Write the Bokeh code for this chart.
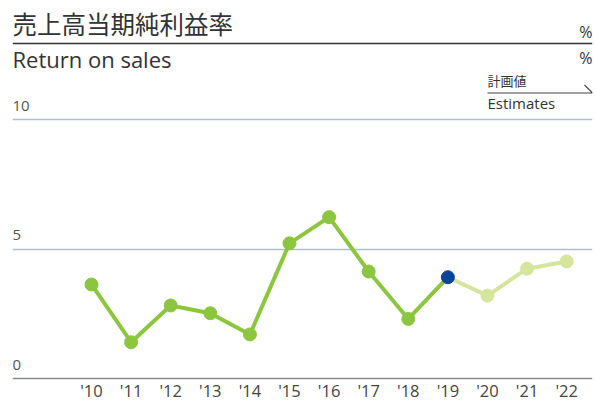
from bokeh.plotting import figure
from bokeh.models import FixedTicker, Span
from bokeh.core.properties import value
from bokeh.embed import file_html
from bokeh.resources import INLINE

years = [2010, 2011, 2012, 2013, 2014, 2015, 2016, 2017, 2018, 2019, 2020, 2021, 2022]
year_labels = ["'10", "'11", "'12", "'13", "'14", "'15", "'16", "'17", "'18", "'19", "'20", "'21", "'22"]
ratio = [3.63, 1.40, 2.82, 2.52, 1.70, 5.22, 6.23, 4.13, 2.30, 3.91, 3.20, 4.24, 4.52]
n_actual = 10  # '10 .. '19 actual, '20 .. '22 estimates
y_ticks = [0, 5, 10]

title_jp = "売上高当期純利益率"
title_en = "Return on sales"
unit = "%"
est_jp = "計画値"
est_en = "Estimates"

GREEN = "#8cc63f"
LIGHT = "#d5e59b"
BLUE = "#0a4497"
JP = "Noto Sans CJK JP"
EN = "Open Sans"
TXT = "#333333"

W, H = 596, 401
FL, FR = 12, 4             # frame inset left / right
px_per_year = 39.6
x0 = 2010 - (91 - FL) / px_per_year
x1 = x0 + (W - FL - FR) / px_per_year
Y0 = 378                   # pixel row of value 0
px_per_unit = 25.9
y_lo = -(H - Y0) / px_per_unit
y_hi = Y0 / px_per_unit


def yd(py):
    return (Y0 - py) / px_per_unit


def xd(px):
    return x0 + (px - FL) / px_per_year


p = figure(width=W, height=H, output_backend="svg", toolbar_location=None,
           x_range=(x0, x1), y_range=(y_lo, y_hi),
           min_border_left=FL, min_border_right=FR, min_border_top=0, min_border_bottom=0)
p.outline_line_color = None
p.background_fill_color = "white"
p.border_fill_color = "white"
p.xaxis.visible = False
p.yaxis.visible = False
p.xgrid.visible = False
p.ygrid.ticker = FixedTicker(ticks=y_ticks[1:])
p.ygrid.grid_line_color = "#adc0cc"
p.ygrid.grid_line_width = 1.3

# baseline axis at 0
p.add_layout(Span(location=y_ticks[0], dimension="width", line_color="#8a8a8a", line_width=1.6))

# x tick labels
p.text(x=years, y=[y_ticks[0]] * len(years), text=year_labels, text_font=value(EN),
       text_font_size="16.5px", text_color="#444444", text_align="center",
       text_baseline="alphabetic", y_offset=12)

# y tick labels above gridlines at left
p.text(x=[x0] * len(y_ticks), y=y_ticks, text=[str(t) for t in y_ticks],
       text_font=value(EN), text_font_size="15px", text_color="#555555",
       text_baseline="alphabetic", text_align="left", y_offset=-14)

# lines
p.line(years[:n_actual], ratio[:n_actual], line_color=GREEN, line_width=4)
p.line(years[n_actual - 1:], ratio[n_actual - 1:], line_color=LIGHT, line_width=4)
p.scatter(years[:n_actual - 1], ratio[:n_actual - 1], size=13, color=GREEN)
p.scatter(years[n_actual:], ratio[n_actual:], size=13, color=LIGHT)
p.scatter([years[n_actual - 1]], [ratio[n_actual - 1]], size=13, color=BLUE)

# titles
p.text(x=[x0], y=[yd(23)], text=[title_jp], text_font=value(JP), text_font_size="24.5px",
       text_color=TXT, text_baseline="alphabetic", text_align="left")
p.add_layout(Span(location=yd(43), dimension="width", line_color="#333333", line_width=1.3))
p.text(x=[x0], y=[yd(58)], text=[title_en], text_font=value(EN), text_font_size="22px",
       text_color=TXT, text_baseline="alphabetic", text_align="left")
p.text(x=[x1, x1], y=[yd(31), yd(57)], text=[unit, unit], text_font=value(EN),
       text_font_size="16px", text_color=TXT, text_baseline="alphabetic", text_align="right")

# estimates label
p.text(x=[xd(487)], y=[yd(80)], text=[est_jp], text_font=value(JP), text_font_size="13px",
       text_color=TXT, text_baseline="alphabetic", text_align="left")
p.line(x=[xd(487), xd(W - FR), xd(W - FR - 8)], y=[yd(92.5), yd(92.5), yd(84.5)],
       line_color="#444444", line_width=1.1)
p.text(x=[xd(487)], y=[yd(102)], text=[est_en], text_font=value(EN), text_font_size="15px",
       text_color=TXT, text_baseline="alphabetic", text_align="left")

open("out.html", "w").write(file_html(p, INLINE))
